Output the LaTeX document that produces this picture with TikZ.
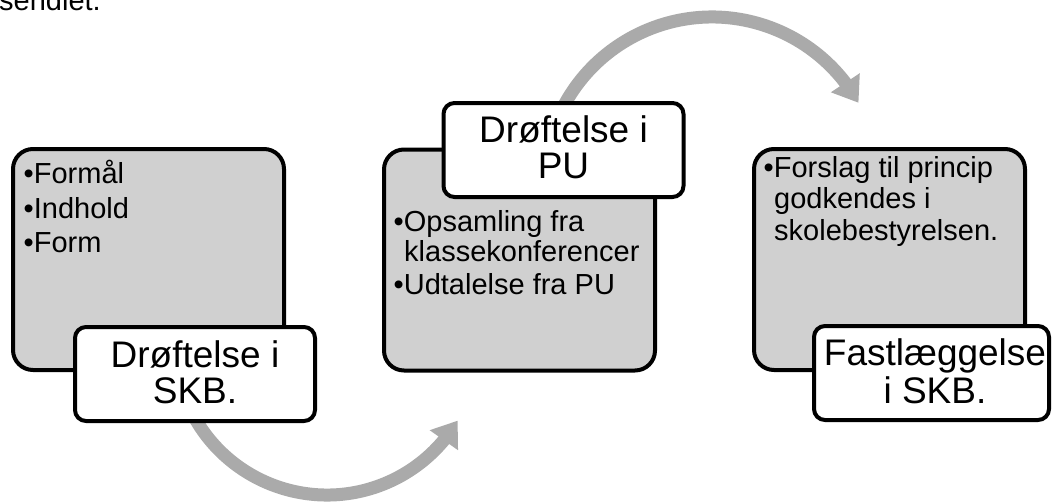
\documentclass[tikz,border=0pt]{standalone}
\usepackage{fontspec}
\setmainfont{Liberation Sans}
\usetikzlibrary{arrows.meta,bending}
\definecolor{arrowgray}{RGB}{170,170,170}
\definecolor{boxgray}{RGB}{208,208,208}
\begin{document}
\begin{tikzpicture}[x=1pt,y=1pt,
  gbox/.style={draw=black, line width=4pt, fill=boxgray, rounded corners=20pt, minimum width=271pt, minimum height=221pt, inner sep=0pt},
  wbox/.style={draw=black, line width=4pt, fill=white, rounded corners=11pt, minimum width=240pt, minimum height=94pt, inner sep=0pt},
  body/.style={anchor=base west, inner sep=0pt, font=\fontsize{29pt}{30pt}\selectfont},
  ttl/.style={anchor=base, inner sep=0pt, font=\fontsize{37pt}{36pt}\selectfont},
  cycarrow/.style={draw=arrowgray, line width=13pt, -{Triangle[width=33pt,length=24pt]}}
]
\useasboundingbox (0,0) rectangle (1052,-501);
\node[body] (topline) at (-1,-10) {sendlet.};
% curved arrows
\coordinate (c1) at (327,-343);
\coordinate (c2) at (712,-185);
\draw[cycarrow] ([shift={(205:152pt)}]c1) arc[start angle=205, end angle=329.3, radius=152pt];
\draw[cycarrow] ([shift={(160:168pt)}]c2) arc[start angle=160, end angle=29.3, radius=168pt];
% grey boxes
\node[gbox] (g1) at (148.5,-259.5) {};
\node[gbox] (g2) at (519.5,-260) {};
\node[gbox] (g3) at (889.5,-259.5) {};
% white boxes
\node[wbox] (w1) at (195,-374) {};
\node[wbox] (w2) at (563.5,-150) {};
\node[wbox, minimum width=235pt] (w3) at (931.5,-373) {};
% body text
\node[body] (b1a) at (23.5,-183) {•Formål};
\node[body] (b1b) at (23.5,-218) {•Indhold};
\node[body] (b1c) at (23.5,-252) {•Form};
\node[body] (b2a) at (393.5,-231.5) {•Opsamling fra};
\node[body] (b2b) at (404,-261) {klassekonferencer};
\node[body] (b2c) at (393.5,-294) {•Udtalelse fra PU};
\node[body] (b3a) at (763.5,-177) {•Forslag til princip};
\node[body] (b3b) at (774,-208) {godkendes i};
\node[body] (b3c) at (774,-240) {skolebestyrelsen.};
% titles
\node[ttl] (t1a) at (195,-367) {Drøftelse i};
\node[ttl] (t1b) at (195,-403) {SKB.};
\node[ttl] (t2a) at (563.5,-142) {Drøftelse i};
\node[ttl] (t2b) at (563.5,-178) {PU};
\node[ttl] (t3a) at (935,-365) {Fastlæggelse};
\node[ttl] (t3b) at (935,-403) {i SKB.};
\end{tikzpicture}
\end{document}
